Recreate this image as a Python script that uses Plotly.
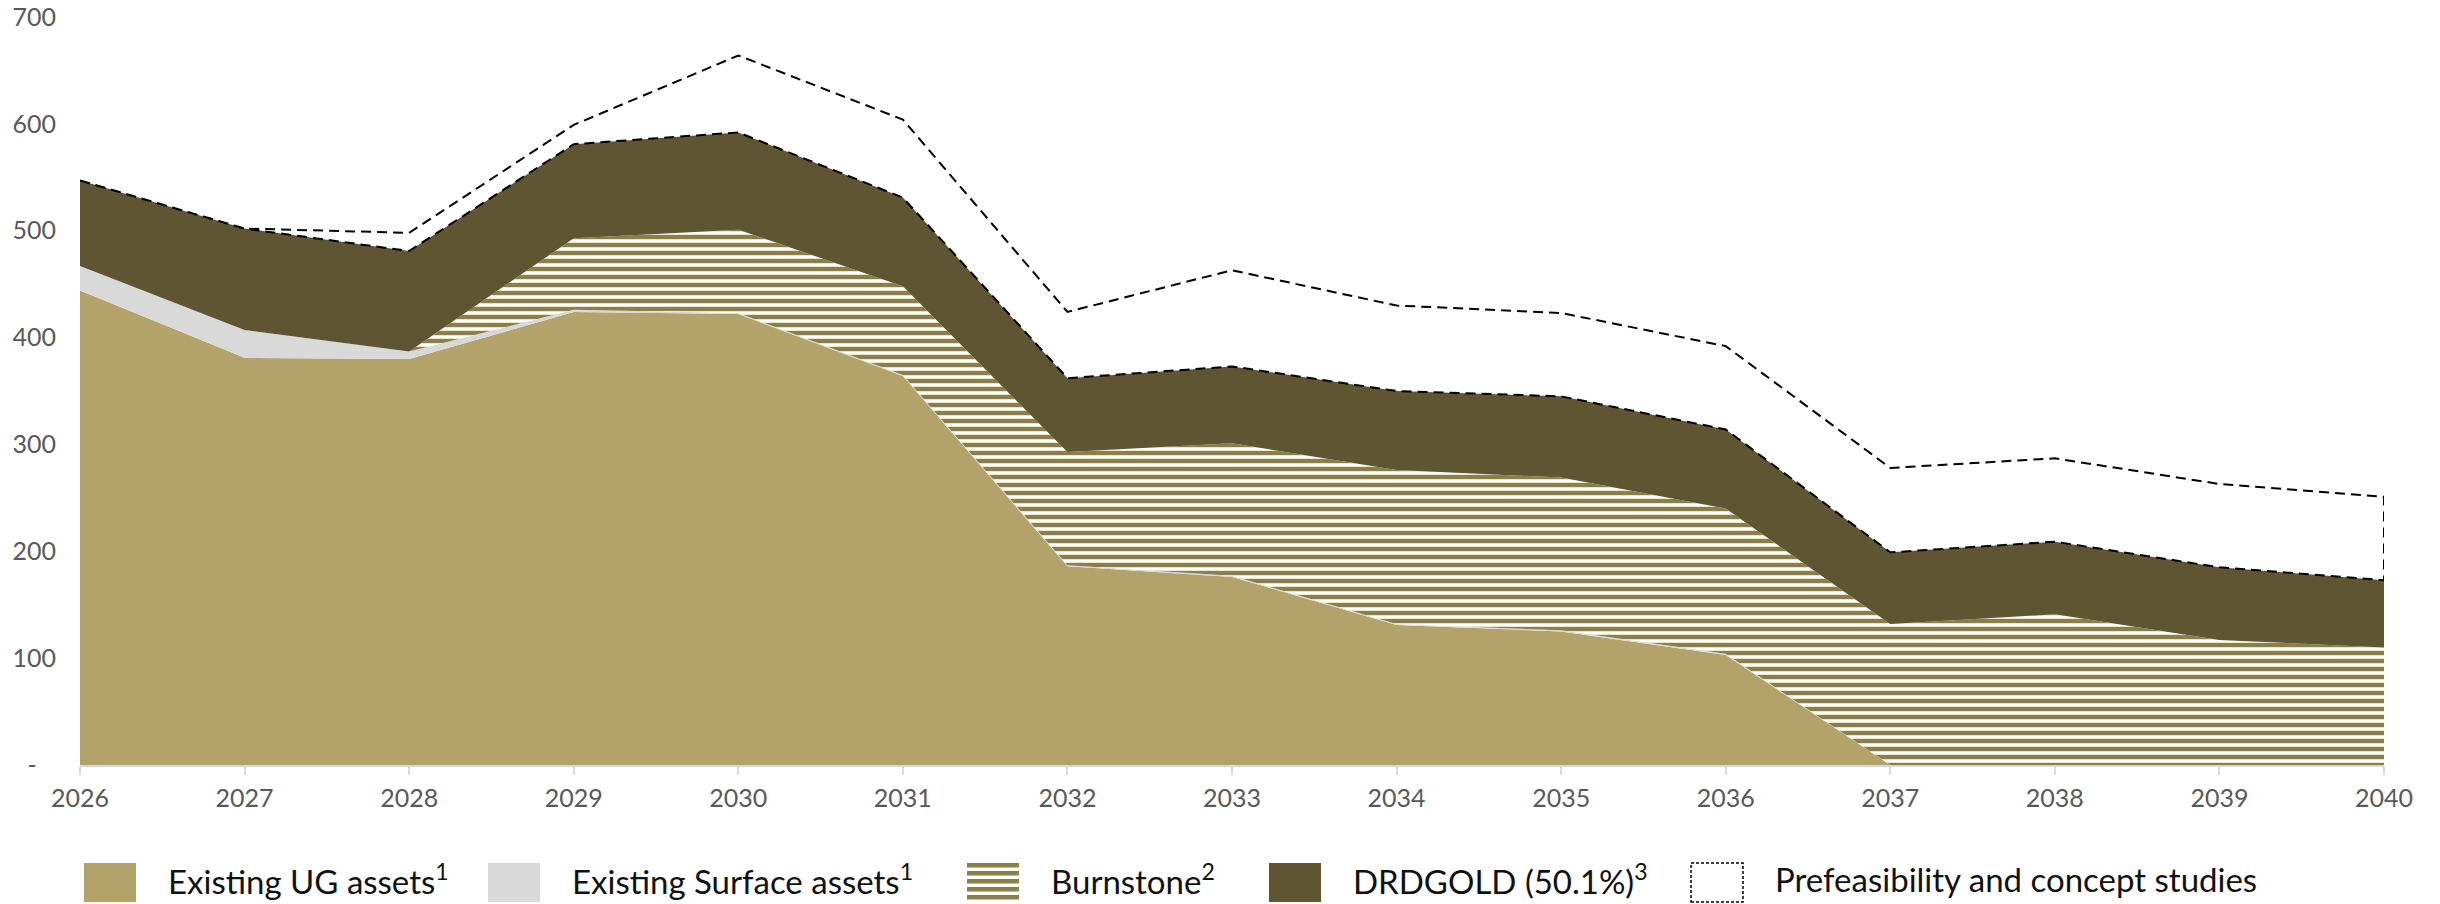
import numpy as np
import plotly.graph_objects as go

# ---------------- data ----------------
years = list(range(2026, 2041))
existing_ug = [444, 381, 380, 424, 422, 364, 186, 176, 131, 125, 103, 0, 0, 0, 0]
existing_surface = [23, 26, 7, 2, 1, 1, 1, 1, 1, 1, 1, 0, 0, 0, 0]
burnstone = [0, 0, 0, 67, 78, 83, 106, 124, 144, 143, 136, 132, 141, 117, 110]
drdgold = [80, 95, 94, 88, 91, 83, 69, 72, 74, 76, 74, 67, 68, 68, 63]
prefeasibility = [0, 0, 17, 18, 72, 73, 62, 90, 80, 78, 78, 79, 78, 78, 78]

y_tick_vals = [0, 100, 200, 300, 400, 500, 600, 700]
y_tick_text = ["-\u00a0\u00a0\u00a0", "100", "200", "300", "400", "500", "600", "700"]

legend_labels = [
    "Existing UG assets<sup>1</sup>",
    "Existing Surface assets<sup>1</sup>",
    "Burnstone<sup>2</sup>",
    "DRDGOLD (50.1%)<sup>3</sup>",
    "Prefeasibility and concept studies",
]

# ---------------- styling ----------------
C_UG = "#B4A26B"
C_SURF = "#D9D9D9"
C_STRIPE = "#8C7E49"
C_DRD = "#5F5533"
AX_GRAY = "#595959"
FONT = "Lato"

W, H = 2440, 904
ML, MR, MT, MB = 80, 56, 17, 139
PW, PH = W - ML - MR, H - MT - MB


def px_x(p):
    return (p - ML) / PW


def px_y(p):
    return (H - MB - p) / PH


fig = go.Figure()

fig.add_trace(go.Scatter(x=years, y=existing_ug, stackgroup="s", mode="lines",
                         line=dict(width=0), fillcolor=C_UG, name=legend_labels[0]))
fig.add_trace(go.Scatter(x=years, y=existing_surface, stackgroup="s", mode="lines",
                         line=dict(width=0), fillcolor=C_SURF, name=legend_labels[1]))
fig.add_trace(go.Scatter(x=years, y=burnstone, stackgroup="s", mode="lines",
                         line=dict(width=0), fillcolor="white",
                         fillpattern=dict(shape="-", size=8, solidity=0.55,
                                          fgcolor=C_STRIPE, bgcolor="white",
                                          fillmode="replace"),
                         name=legend_labels[2]))
fig.add_trace(go.Scatter(x=years, y=drdgold, stackgroup="s", mode="lines",
                         line=dict(width=0), fillcolor=C_DRD, name=legend_labels[3]))

# Prefeasibility: outlined (dashed) band on top of the stack
base = np.array(existing_ug) + np.array(existing_surface) + np.array(burnstone) + np.array(drdgold)
top = base + np.array(prefeasibility)
poly_x = years + years[::-1]
poly_y = list(top) + list(base[::-1])
fig.add_trace(go.Scatter(x=poly_x, y=poly_y, mode="lines", fill="toself",
                         fillcolor="rgba(255,255,255,0)",
                         line=dict(color="black", width=2, dash="10px,6px"),
                         cliponaxis=False, name=legend_labels[4]))

# ---------------- custom legend ----------------
shapes = []
annotations = []
sw_x = [84, 488, 967, 1269, 1691]
sw_w, sw_top, sw_bot = 52, 863, 902
fills = [C_UG, C_SURF, None, C_DRD, None]
for i, lab in enumerate(legend_labels):
    x0, x1 = sw_x[i], sw_x[i] + sw_w
    if i == 2:
        shapes.append(dict(type="rect", xref="paper", yref="paper",
                           x0=px_x(x0), x1=px_x(x1), y0=px_y(sw_bot), y1=px_y(sw_top),
                           fillcolor="white", line=dict(width=0)))
        yy = sw_top
        while yy < sw_bot:
            shapes.append(dict(type="rect", xref="paper", yref="paper",
                               x0=px_x(x0), x1=px_x(x1),
                               y0=px_y(min(yy + 4.4, sw_bot)), y1=px_y(yy),
                               fillcolor=C_STRIPE, line=dict(width=0)))
            yy += 8
    elif i == 4:
        shapes.append(dict(type="rect", xref="paper", yref="paper",
                           x0=px_x(x0), x1=px_x(x1), y0=px_y(sw_bot), y1=px_y(sw_top),
                           fillcolor="white",
                           line=dict(color="black", width=1.5, dash="3px,2px")))
    else:
        shapes.append(dict(type="rect", xref="paper", yref="paper",
                           x0=px_x(x0), x1=px_x(x1), y0=px_y(sw_bot), y1=px_y(sw_top),
                           fillcolor=fills[i], line=dict(width=0)))
    annotations.append(dict(text=lab, xref="paper", yref="paper",
                            x=px_x(x1 + 30), y=px_y(879), xanchor="left", yanchor="middle",
                            showarrow=False,
                            font=dict(family=FONT, size=33, color="#111111")))

fig.update_layout(
    width=W, height=H,
    margin=dict(l=ML, r=MR, t=MT, b=MB, pad=0, autoexpand=False),
    paper_bgcolor="white", plot_bgcolor="white",
    showlegend=False,
    font=dict(family=FONT, color=AX_GRAY),
    shapes=shapes, annotations=annotations,
    xaxis=dict(range=[2026, 2040], tickvals=years, showgrid=False, zeroline=False,
               automargin=False,
               showline=True, linecolor="#D9D9D9", linewidth=2,
               ticks="outside", ticklen=8, tickwidth=2, tickcolor="#D9D9D9",
               ticklabelstandoff=2,
               tickfont=dict(family=FONT, size=25, color=AX_GRAY)),
    yaxis=dict(range=[0, 700], tickvals=y_tick_vals, ticktext=y_tick_text,
               showgrid=False, zeroline=False, showline=False, ticks="",
               automargin=False,
               ticklabelstandoff=23,
               tickfont=dict(family=FONT, size=25, color=AX_GRAY)),
)

fig.write_html("out.html",
               config={"displayModeBar": False},
               post_script="document.body.style.margin='0';document.body.style.padding='0';")
